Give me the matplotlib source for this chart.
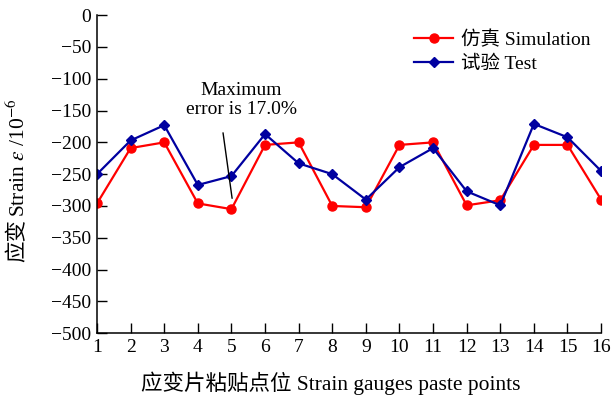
import numpy as np
from matplotlib import pyplot as plt

plt.rcParams['font.family'] = ['Liberation Serif', 'Noto Sans CJK SC']
plt.rcParams['mathtext.fontset'] = 'stix'
plt.rcParams['font.size'] = 14

# Data
points = list(range(1, 17))
simulation = [-296, -209, -200, -296, -305, -204, -200, -300, -302, -204, -200, -299, -291, -204, -204, -290]
test = [-250, -197, -173, -267, -253, -187, -233, -250, -290, -239, -209, -277, -299, -171, -192, -245]

fig = plt.figure(figsize=(6.14, 3.99), dpi=100)
ax = fig.add_axes([0.158, 0.165, 0.821, 0.797])

ax.plot(points, simulation, color="#ff0000", marker="o", markersize=6.5, linewidth=1.6, label="仿真 Simulation")
ax.plot(points, test, color="#0000a0", marker="D", markersize=5, linewidth=1.6, label="试验 Test")

# Annotation: max error
ax.annotate("", xy=(5.02, -288), xytext=(4.75, -185),
            arrowprops=dict(arrowstyle="-", color="black", linewidth=1,
                            shrinkA=0, shrinkB=0))
ax.text(5.29, -162, "Maximum\nerror is 17.0%", ha="center", va="bottom",
        linespacing=1.15)

ax.set_xlim(1, 16)
ax.set_ylim(-500, 0)
ax.set_xticks(points)
ax.set_yticks(np.arange(-500, 1, 50))
ax.tick_params(direction="in", length=7, width=1, pad=4)
ax.spines["top"].set_visible(False)
ax.spines["right"].set_visible(False)
for s in ["left", "bottom"]:
    ax.spines[s].set_linewidth(1.1)

ax.set_xlabel("应变片粘贴点位 Strain gauges paste points", fontsize=15.5)
ax.xaxis.set_label_coords((331 - 97) / 504, -0.122)

# y label in two pieces (CJK + math)
fig.text(0.03, 0.456, "Strain $\\varepsilon$ /10$^{-6}$", rotation=90, ha="center", va="bottom",
         fontsize=15.5)
fig.text(0.03, 0.45, "应变", rotation=90, ha="center", va="top", fontsize=15.5)

ax.legend(loc="upper right", bbox_to_anchor=(1.01, 1.0), frameon=False, handlelength=2.0,
          handletextpad=0.4, labelspacing=0.3, borderpad=0.3)

fig.savefig("out.png", dpi=100)
